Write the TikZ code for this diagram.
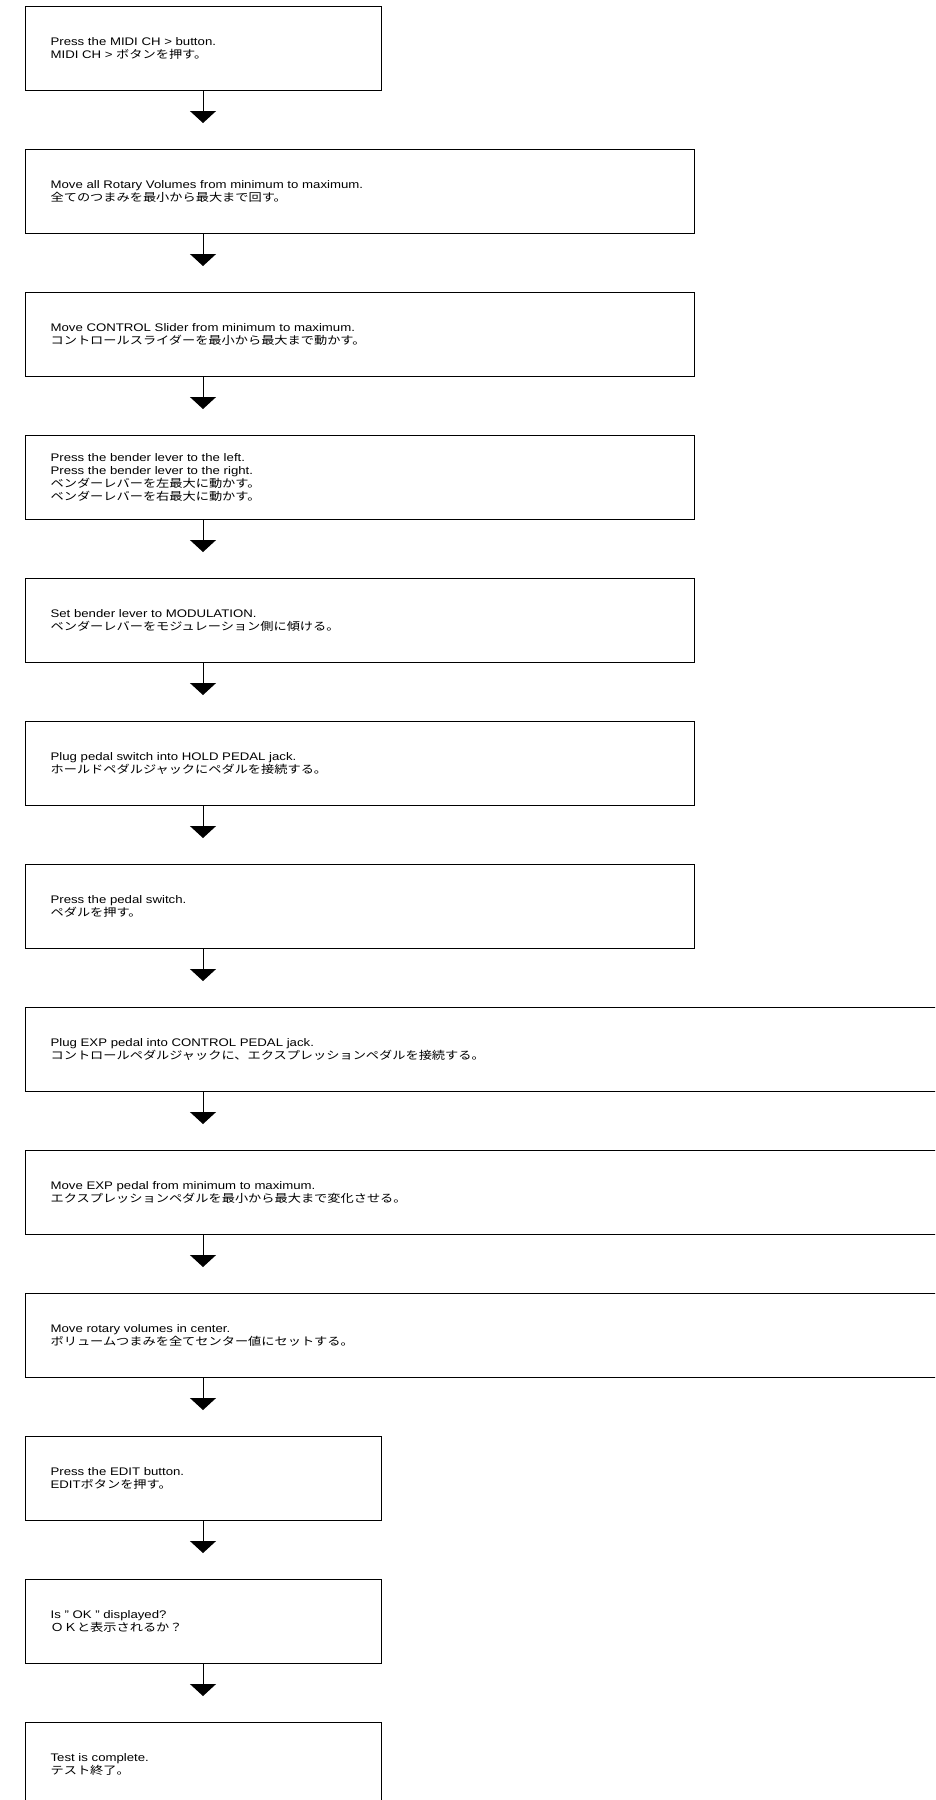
\documentclass[tikz,border=0pt]{standalone}
\usepackage{fontspec}
\setmainfont{Liberation Sans}[FakeStretch=1.2]
\newfontfamily\jp{Noto Sans CJK JP}[FakeStretch=1.2]
\usetikzlibrary{arrows.meta}

\begin{document}
\begin{tikzpicture}[x=1bp,y=-1bp,
  stepbox/.style={draw, line width=1.2bp, rectangle, anchor=north west, inner xsep=25bp, inner ysep=0pt,
    minimum height=84bp, align=left, font=\fontsize{11bp}{12.8bp}\selectfont},
  smallbox/.style={stepbox, text width=306bp},
  widebox/.style={stepbox, text width=619bp},
  fullbox/.style={stepbox, text width=900bp},
  flow/.style={line width=0.9bp, -{Triangle[width=26bp,length=12bp]}, shorten >=26bp}]
\useasboundingbox (0,0) rectangle (935,1800);
\clip (0,0) rectangle (935,1800);

\coordinate (ax) at (203,0);

\node[smallbox](S1) at (25,6) {Press the MIDI CH > button.\\MIDI CH > {\jp ボタンを押す。}};
\node[widebox](S2) at (25,149) {Move all Rotary Volumes from minimum to maximum.\\{\jp 全てのつまみを最小から最大まで回す。}};
\node[widebox](S3) at (25,292) {Move CONTROL Slider from minimum to maximum.\\{\jp コントロールスライダーを最小から最大まで動かす。}};
\node[widebox](S4) at (25,435) {Press the bender lever to the left.\\Press the bender lever to the right.\\{\jp ベンダーレバーを左最大に動かす。}\\{\jp ベンダーレバーを右最大に動かす。}};
\node[widebox](S5) at (25,578) {Set bender lever to MODULATION.\\{\jp ベンダーレバーをモジュレーション側に傾ける。}};
\node[widebox](S6) at (25,721) {Plug pedal switch into HOLD PEDAL jack.\\{\jp ホールドペダルジャックにペダルを接続する。}};
\node[widebox](S7) at (25,864) {Press the pedal switch.\\{\jp ペダルを押す。}};
\node[fullbox](S8) at (25,1007) {Plug EXP pedal into CONTROL PEDAL jack.\\{\jp コントロールペダルジャックに、エクスプレッションペダルを接続する。}};
\node[fullbox](S9) at (25,1150) {Move EXP pedal from minimum to maximum.\\{\jp エクスプレッションペダルを最小から最大まで変化させる。}};
\node[fullbox](S10) at (25,1293) {Move rotary volumes in center.\\{\jp ボリュームつまみを全てセンター値にセットする。}};
\node[smallbox](S11) at (25,1436) {Press the EDIT button.\\EDIT{\jp ボタンを押す。}};
\node[smallbox](S12) at (25,1579) {Is " OK " displayed?\\{\jp ＯＫと表示されるか？}};
\node[smallbox](S13) at (25,1722) {Test is complete.\\{\jp テスト終了。}};

\draw[flow](S1.south -| ax) to (S2.north -| ax);
\draw[flow](S2.south -| ax) to (S3.north -| ax);
\draw[flow](S3.south -| ax) to (S4.north -| ax);
\draw[flow](S4.south -| ax) to (S5.north -| ax);
\draw[flow](S5.south -| ax) to (S6.north -| ax);
\draw[flow](S6.south -| ax) to (S7.north -| ax);
\draw[flow](S7.south -| ax) to (S8.north -| ax);
\draw[flow](S8.south -| ax) to (S9.north -| ax);
\draw[flow](S9.south -| ax) to (S10.north -| ax);
\draw[flow](S10.south -| ax) to (S11.north -| ax);
\draw[flow](S11.south -| ax) to (S12.north -| ax);
\draw[flow](S12.south -| ax) to (S13.north -| ax);
\end{tikzpicture}
\end{document}
